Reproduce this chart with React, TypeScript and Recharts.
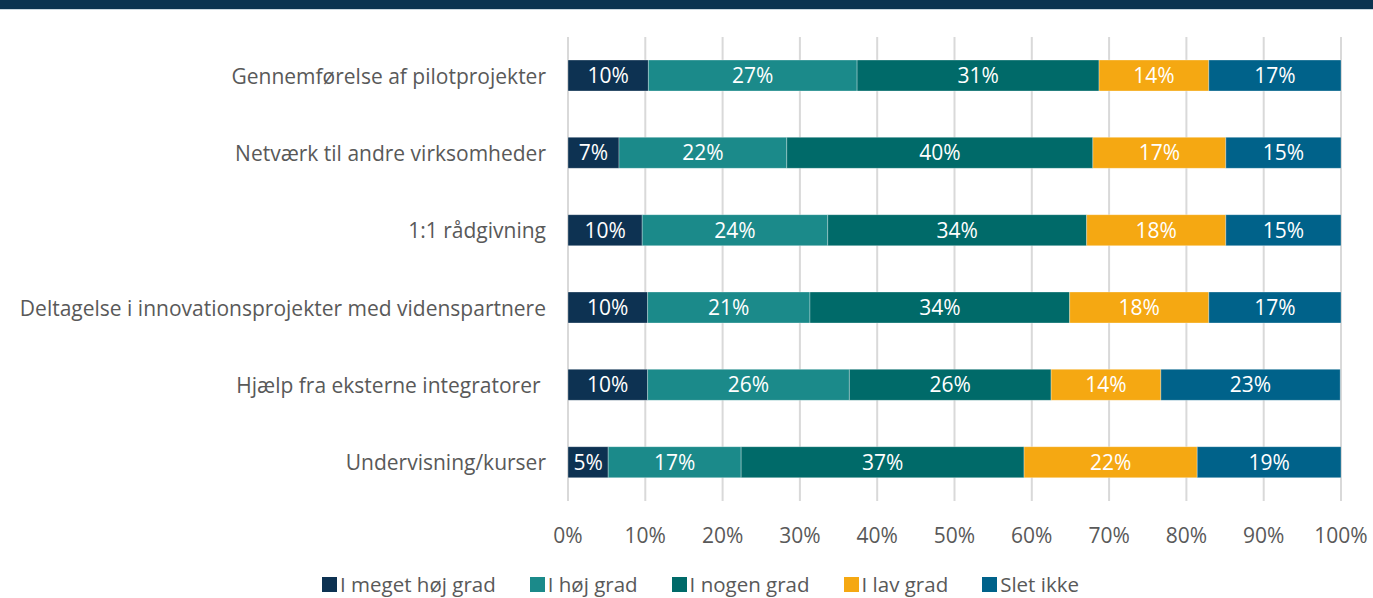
import React from "react";
import {
  BarChart,
  Bar,
  XAxis,
  YAxis,
  CartesianGrid,
  LabelList,
  Legend,
} from "recharts";

const categories = [
  "Gennemførelse af pilotprojekter",
  "Netværk til andre virksomheder",
  "1:1 rådgivning",
  "Deltagelse i innovationsprojekter med videnspartnere",
  "Hjælp fra eksterne integratorer ",
  "Undervisning/kurser",
];

const meget = [10.4, 6.6, 9.6, 10.3, 10.3, 5.2];
const hoj = [27.0, 21.7, 24.0, 21.0, 26.1, 17.2];
const nogen = [31.3, 39.6, 33.5, 33.6, 26.1, 36.6];
const lav = [14.2, 17.2, 18.0, 18.0, 14.2, 22.4];
const slet = [17.1, 14.9, 14.9, 17.1, 23.2, 18.6];

const xTicks = [0, 10, 20, 30, 40, 50, 60, 70, 80, 90, 100];

const series = [
  { key: "meget", name: "I meget høj grad", color: "#0d3252" },
  { key: "hoj", name: "I høj grad", color: "#1b8a8a" },
  { key: "nogen", name: "I nogen grad", color: "#006a69" },
  { key: "lav", name: "I lav grad", color: "#f5a812" },
  { key: "slet", name: "Slet ikke", color: "#00628a" },
];

const data = categories.map((name, i) => ({
  name,
  meget: meget[i],
  hoj: hoj[i],
  nogen: nogen[i],
  lav: lav[i],
  slet: slet[i],
}));

const FONT = "'Open Sans', 'Noto Sans', sans-serif";
const GRAY = "#595959";

const CategoryTick = (props: any) => {
  const { x, y, payload } = props;
  return (
    <text
      x={x}
      y={y}
      dy={8}
      textAnchor="end"
      fill={GRAY}
      fontSize={21}
      fontFamily={FONT}
      style={{ whiteSpace: "pre" }}
    >
      {payload.value}
    </text>
  );
};

const LegendContent = () => (
  <div
    style={{
      display: "flex",
      justifyContent: "center",
      gap: 34,
      fontFamily: FONT,
      fontSize: 20.5,
      color: GRAY,
      paddingLeft: 60,
      lineHeight: "26px",
    }}
  >
    {series.map((s) => (
      <div key={s.key} style={{ display: "flex", alignItems: "center", gap: 3 }}>
        <span style={{ width: 15, height: 15, background: s.color, display: "inline-block" }} />
        <span>{s.name}</span>
      </div>
    ))}
  </div>
);

export default function App() {
  return (
    <div
      style={{
        position: "absolute",
        left: 0,
        top: 0,
        width: 1373,
        height: 598,
        background: "#fff",
        overflow: "hidden",
      }}
    >
      <div style={{ height: 9, background: "#0b3350", borderBottom: "1px solid #c9d6de" }} />
      <div style={{ position: "absolute", left: 0, top: 0 }}>
        <BarChart
          width={1373}
          height={598}
          data={data}
          layout="vertical"
          barSize={31}
          margin={{ top: 37, right: 32, bottom: 1, left: 0 }}
        >
          <CartesianGrid horizontal={false} stroke="#d9d9d9" strokeWidth={2} />
          <XAxis
            type="number"
            domain={[0, 100]}
            ticks={xTicks}
            allowDataOverflow
            tickFormatter={(v: number) => `${v}%`}
            axisLine={false}
            tickLine={false}
            tickSize={0}
            tickMargin={27}
            height={70}
            tick={{ fill: GRAY, fontSize: 21, fontFamily: FONT }}
          />
          <YAxis
            type="category"
            dataKey="name"
            width={568}
            axisLine={false}
            tickLine={false}
            tickSize={0}
            tickMargin={22}
            tick={<CategoryTick />}
            interval={0}
          />
          <Legend verticalAlign="bottom" content={<LegendContent />} />
          {series.map((s) => (
            <Bar
              key={s.key}
              dataKey={s.key}
              name={s.name}
              stackId="a"
              fill={s.color}
              stroke="#ffffff"
              strokeOpacity={0.4}
              strokeWidth={0.75}
              isAnimationActive={false}
            >
              <LabelList
                dataKey={s.key}
                position="center"
                formatter={(v: any) => `${Math.round(Number(v))}%`}
                fill="#ffffff"
                fontSize={21}
                fontFamily={FONT}
              />
            </Bar>
          ))}
        </BarChart>
      </div>
    </div>
  );
}
